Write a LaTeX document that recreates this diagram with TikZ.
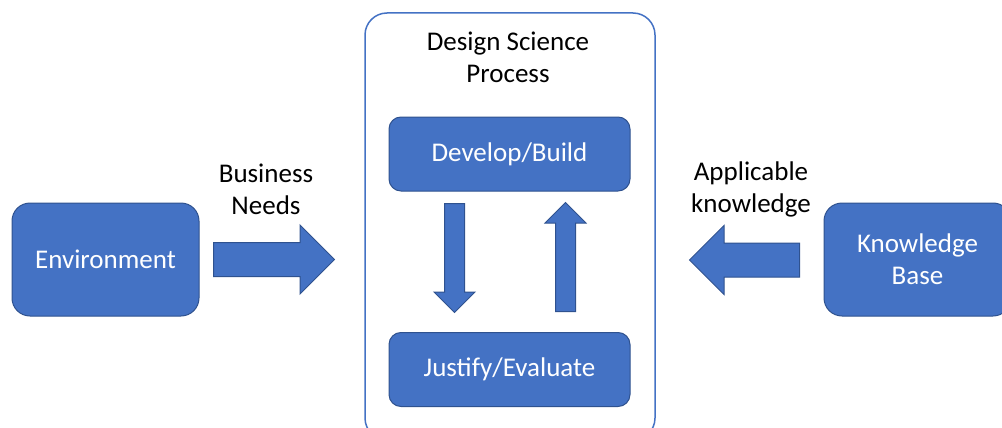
\documentclass[tikz,border=0pt]{standalone}
\usepackage{fontspec}
\setmainfont{Carlito}
\usepackage{tikz}
\usetikzlibrary{shapes.arrows,positioning}
\usepackage{xcolor}
\definecolor{dsblue}{RGB}{68,114,196}
\definecolor{dsdarkblue}{RGB}{47,82,143}
\tikzstyle{stage} = [rectangle, rounded corners=18pt, minimum width=187pt, minimum height=113pt, text centered, align=center, draw=dsdarkblue, fill=dsblue, text=white, line width=1pt, font=\fontsize{27}{32}\selectfont]
\tikzstyle{activity} = [stage, rounded corners=12pt, minimum width=241pt, minimum height=74pt]
\tikzstyle{container} = [rectangle, rounded corners=22pt, minimum width=290pt, minimum height=427pt, draw=dsblue, line width=1.5pt]
\tikzstyle{plaintext} = [align=center, font=\fontsize{27}{32}\selectfont, text=black]
\tikzstyle{bigarrow} = [single arrow, anchor=tail, draw=dsdarkblue, fill=dsblue, line width=1pt, inner xsep=0pt, inner ysep=16.5pt, minimum width=68pt, single arrow head extend=17.5pt]
\tikzstyle{smallarrow} = [bigarrow, inner xsep=9.5pt, inner ysep=0pt, minimum width=40pt, single arrow head extend=10.5pt, minimum height=109pt]

\begin{document}
\begin{tikzpicture}[x=1pt, y=-1pt]
\useasboundingbox (0,0) rectangle (1002,428);

% Design science process
\node (dsp) [container] at (510,226.5) {};
\node (dsptitle) [plaintext] at (508,57.5) {Design Science\\Process};
\node (develop) [activity] at (509.5,154) {Develop/Build};
\node (justify) [activity] at (509.5,369.5) {Justify/Evaluate};

% Outer boxes
\node (env) [stage] at (105.5,259.5) {Environment};
\node (kb) [stage] at (917.5,259.5) {Knowledge\\Base};

% Arrows
\node (needsarrow) [bigarrow, minimum height=121pt] at (213,259.5) {};
\node (knowarrow) [bigarrow, minimum height=110pt, shape border rotate=180] at (800,260) {};
\node (downarrow) [smallarrow, shape border rotate=270] at (454.5,203) {};
\node (uparrow) [smallarrow, shape border rotate=90] at (565.5,312) {};

% Labels
\node (needs) [plaintext] at (266,189) {Business\\Needs};
\node (know) [plaintext] at (751,189) {Applicable\\knowledge};
\end{tikzpicture}
\end{document}
